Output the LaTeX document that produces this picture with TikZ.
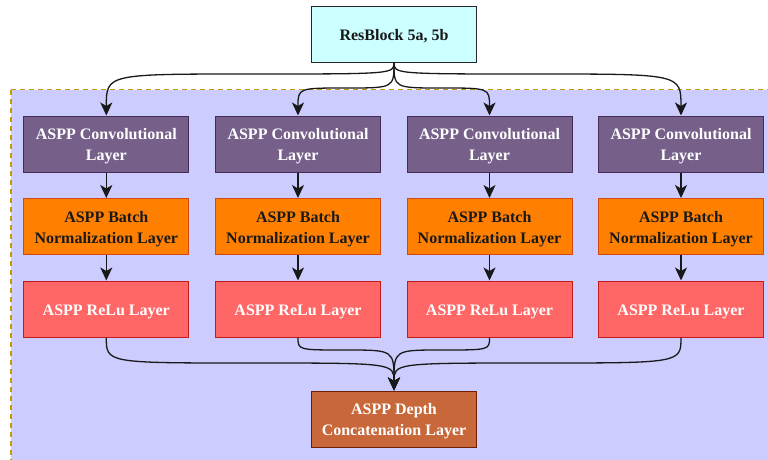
\documentclass[tikz,border=0pt]{standalone}
\usepackage{fontspec}
\setmainfont{Liberation Serif}
\usetikzlibrary{arrows.meta,calc}
\definecolor{panelfill}{HTML}{CCCCFF}
\definecolor{paneledge}{HTML}{C49A00}
\definecolor{resfill}{HTML}{CCFFFF}
\definecolor{convfill}{HTML}{76608A}
\definecolor{convedge}{HTML}{432D57}
\definecolor{bnfill}{HTML}{FF8000}
\definecolor{bnedge}{HTML}{D04A10}
\definecolor{relufill}{HTML}{FF6666}
\definecolor{reluedge}{HTML}{C41C1C}
\definecolor{catfill}{HTML}{C8683A}
\definecolor{catedge}{HTML}{6D1F00}
\newcommand{\topstrut}{\rule{0pt}{15.5pt}}
\tikzset{
  layerbox/.style={rectangle, minimum width=165pt, minimum height=56pt,
    inner sep=2pt, align=center, line width=1pt,
    font=\fontsize{16}{21}\selectfont\bfseries},
  resbox/.style={layerbox, fill=resfill, draw=black!85, text=black!90},
  convbox/.style={layerbox, fill=convfill, draw=convedge, text=white},
  bnbox/.style={layerbox, fill=bnfill, draw=bnedge, text=black!90},
  relubox/.style={layerbox, fill=relufill, draw=reluedge, text=white},
  catbox/.style={layerbox, fill=catfill, draw=catedge, text=white},
  link/.style={line width=1.3pt, draw=black!90,
    -{Stealth[length=13pt,width=12pt,inset=3.5pt]}},
}
\begin{document}
\begin{tikzpicture}[x=1pt,y=-1pt]
\useasboundingbox (0,0) rectangle (768,459);
\clip (0,0) rectangle (768,459);

% shaded panel holding the four ASPP branches
\draw[fill=panelfill, draw=paneledge, line width=1.3pt, dash pattern=on 5pt off 4pt]
  (11,89.5) rectangle (800,500);

\node[resbox] (res) at (394,34) {\topstrut ResBlock 5a, 5b};

\foreach \i/\x in {1/106.3, 2/298, 3/489.5, 4/681} {
  \node[convbox] (c\i) at (\x,144) {\topstrut ASPP Convolutional\\Layer};
  \node[bnbox]   (b\i) at (\x,226.5) {\topstrut ASPP Batch\\Normalization Layer};
  \node[relubox] (r\i) at (\x,309) {\topstrut ASPP ReLu Layer};
  \draw[link] (c\i) -- (b\i);
  \draw[link] (b\i) -- (r\i);
}

\node[catbox] (cat) at (394,419) {\topstrut ASPP Depth\\Concatenation Layer};

% bend levels of the fan-out and fan-in connectors
\coordinate (outtop) at (0,74);
\coordinate (intop) at (0,88);
\coordinate (outbot) at (0,363);
\coordinate (inbot) at (0,350);

\foreach \i/\lvl in {1/outtop, 2/intop, 3/intop, 4/outtop} {
  \draw[link] (res.south)
    .. controls (res.south |- \lvl) .. ($(res.south |- \lvl)!0.5!(c\i.north |- \lvl)$)
    .. controls (c\i.north |- \lvl) .. (c\i.north);
}
\foreach \i/\lvl in {1/outbot, 2/inbot, 3/inbot, 4/outbot} {
  \draw[link] (r\i.south)
    .. controls (r\i.south |- \lvl) .. ($(r\i.south |- \lvl)!0.5!(cat.north |- \lvl)$)
    .. controls (cat.north |- \lvl) .. (cat.north);
}
\end{tikzpicture}
\end{document}
